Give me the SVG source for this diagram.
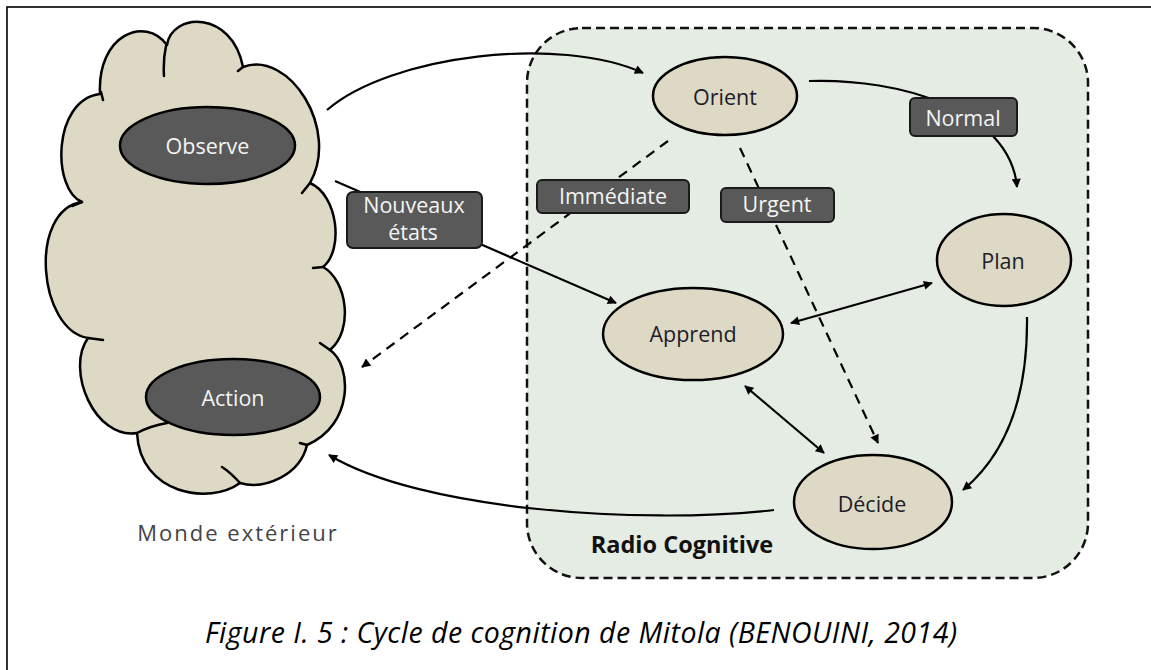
<svg xmlns="http://www.w3.org/2000/svg" width="1151" height="670" viewBox="0 0 1151 670">
<style>
.frame{fill:none;stroke:#000;stroke-width:1.6}
.cloud{fill:#ddd9c4;stroke:#000;stroke-width:2.5;stroke-linejoin:round}
.tail{fill:none;stroke:#000;stroke-width:2.5;stroke-linecap:round}
.dark{fill:#595959;stroke:#000;stroke-width:2.5}
.light{fill:#ddd9c4;stroke:#000;stroke-width:2.5}
.rc{fill:#e4ece3;stroke:#111;stroke-width:2.5;stroke-dasharray:9 5}
.lbl{fill:#595959;stroke:#1a1a1a;stroke-width:2}
.wt{font-family:"Open Sans","Liberation Sans",sans-serif;font-size:21.5px;fill:#f4f4f4;text-anchor:middle}
.bt{font-family:"Open Sans","Liberation Sans",sans-serif;font-size:21.5px;fill:#1c1c2a;text-anchor:middle}
.edge{fill:none;stroke:#000;stroke-width:2.2}
.dash{fill:none;stroke:#000;stroke-width:2.2;stroke-dasharray:10 7}
</style>
<defs>
<marker id="ah" viewBox="0 0 10 10" refX="9" refY="5" markerWidth="11" markerHeight="9" markerUnits="userSpaceOnUse" orient="auto-start-reverse">
<path d="M0,0 L10,5 L0,10 Z" fill="#000"/>
</marker>
</defs>
<rect class="frame" x="7" y="7" width="1170" height="690"/>

<g id="radio-cognitive">
<rect class="rc" x="527" y="28" width="561" height="550" rx="55" ry="55"/>
<text x="682" y="553" font-family="'Open Sans','Liberation Sans',sans-serif" font-size="23.5" font-weight="bold" fill="#111" text-anchor="middle">Radio Cognitive</text>
</g>

<g id="monde-exterieur">
<path class="cloud" d="M100,94 C97,35 145,15 167,45 C172,12 232,10 243,67 C290,50 340,130 310,183 C338,195 344,250 323,267 C347,280 354,330 330,350 C352,365 354,425 307,445 C300,475 265,490 240,483 C210,505 140,495 137,433 C95,440 65,370 88,338 C38,330 28,210 82,202 C52,190 52,100 100,94 Z"/>
<path class="tail" d="M101,92 L103,100 M166,46 Q163,60 164,76 M243,67 L238,71 M310,183 L302,193 M323,267 L313,268 M330,350 L320,343 M307,445 L300,443 M240,483 Q230,472 222,467 M137,433 Q150,426 167,423 M88,338 L103,340 M82,202 L72,206"/>
<text x="238" y="541" font-family="'Open Sans','Liberation Sans',sans-serif" font-size="22" fill="#444" text-anchor="middle" letter-spacing="2">Monde extérieur</text>
</g>

<g id="connectors">
<path class="edge" d="M327,110 C390,55 560,35 643,73" marker-end="url(#ah)"/>
<path class="edge" d="M809,81 C900,78 1010,110 1017,187" marker-end="url(#ah)"/>
<path class="edge" d="M1027,317 C1028,400 1005,455 963,490" marker-end="url(#ah)"/>
<path class="edge" d="M774,510 C640,525 420,510 329,455" marker-end="url(#ah)"/>
<path class="edge" d="M335,181 L616,303" marker-end="url(#ah)"/>
<path class="dash" d="M668,141 L362,367" marker-end="url(#ah)"/>
<path class="dash" d="M740,148 L878,443" marker-end="url(#ah)"/>
<path class="edge" d="M791,323 L932,283" marker-start="url(#ah)" marker-end="url(#ah)"/>
<path class="edge" d="M745,386 L824,453" marker-start="url(#ah)" marker-end="url(#ah)"/>
</g>

<g id="observe">
<ellipse class="dark" cx="207.5" cy="145.5" rx="87.5" ry="38.5"/>
<text class="wt" x="207.5" y="154">Observe</text>
</g>
<g id="action">
<ellipse class="dark" cx="233" cy="397" rx="87" ry="38"/>
<text class="wt" x="233" y="406">Action</text>
</g>
<g id="orient">
<ellipse class="light" cx="725" cy="96" rx="72" ry="39"/>
<text class="bt" x="725" y="105">Orient</text>
</g>
<g id="plan">
<ellipse class="light" cx="1004" cy="260" rx="67" ry="46"/>
<text class="bt" x="1003" y="269">Plan</text>
</g>
<g id="apprend">
<ellipse class="light" cx="693" cy="334" rx="90" ry="46"/>
<text class="bt" x="693" y="342">Apprend</text>
</g>
<g id="decide">
<ellipse class="light" cx="873" cy="502" rx="79" ry="47"/>
<text class="bt" x="872" y="512">Décide</text>
</g>

<g id="label-nouveaux-etats">
<rect class="lbl" x="347" y="192" width="135" height="56" rx="6"/>
<text class="wt" x="414" y="213">Nouveaux</text>
<text class="wt" x="413" y="240">états</text>
</g>
<g id="label-immediate">
<rect class="lbl" x="537" y="180" width="152" height="33" rx="5"/>
<text class="wt" x="613" y="204">Immédiate</text>
</g>
<g id="label-urgent">
<rect class="lbl" x="721" y="188" width="113" height="34" rx="5"/>
<text class="wt" x="777" y="212">Urgent</text>
</g>
<g id="label-normal">
<rect class="lbl" x="910" y="98" width="107" height="38" rx="5"/>
<text class="wt" x="963" y="126">Normal</text>
</g>

<text x="205" y="643" font-family="'Open Sans','Liberation Sans',sans-serif" font-size="28.5" font-style="italic" fill="#000" textLength="752" lengthAdjust="spacing">Figure I. 5 : Cycle de cognition de Mitola (BENOUINI, 2014)</text>
</svg>
